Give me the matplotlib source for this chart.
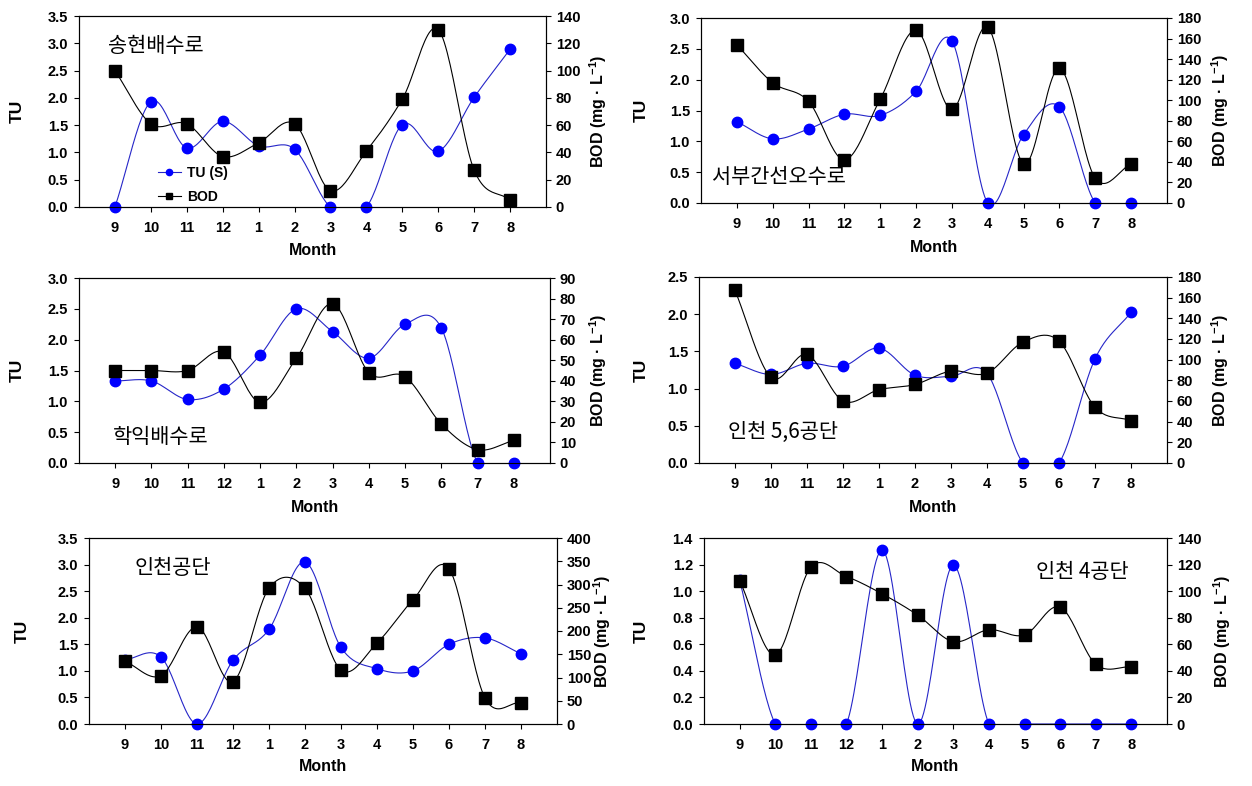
import numpy as np
import matplotlib
matplotlib.use("Agg")
import matplotlib.pyplot as plt
from matplotlib.lines import Line2D

plt.rcParams['font.family'] = ['Liberation Sans', 'Noto Sans CJK KR', 'DejaVu Sans']
plt.rcParams['mathtext.fontset'] = 'custom'
plt.rcParams['mathtext.rm'] = 'Liberation Sans'
plt.rcParams['mathtext.bf'] = 'Liberation Sans:bold'
plt.rcParams['axes.linewidth'] = 0.8

months = ['9', '10', '11', '12', '1', '2', '3', '4', '5', '6', '7', '8']

# Panel 1: 송현배수로
tu_1 = [0, 1.93, 1.08, 1.57, 1.12, 1.06, 0, 0, 1.51, 1.02, 2.01, 2.89]
bod_1 = [100, 61, 61, 37, 47, 61, 12, 41, 79, 130, 27, 5]
# Panel 2: 서부간선오수로
tu_2 = [1.32, 1.04, 1.20, 1.44, 1.42, 1.81, 2.63, 0, 1.11, 1.56, 0, 0]
bod_2 = [154, 117, 99, 42, 101, 168, 91, 171, 38, 131, 24, 38]
# Panel 3: 학익배수로
tu_3 = [1.33, 1.33, 1.03, 1.20, 1.75, 2.50, 2.13, 1.70, 2.25, 2.19, 0, 0]
bod_3 = [45, 45, 45, 54, 29.5, 51, 77.5, 44, 42, 19, 6.5, 11]
# Panel 4: 인천 5,6공단
tu_4 = [1.34, 1.19, 1.34, 1.30, 1.545, 1.18, 1.165, 1.205, 0, 0, 1.40, 2.025]
bod_4 = [167, 83, 105, 60, 71, 76, 89, 87, 117, 118, 54, 41]
# Panel 5: 인천공단
tu_5 = [1.21, 1.26, 0, 1.20, 1.78, 3.05, 1.44, 1.04, 1.00, 1.50, 1.62, 1.32]
bod_5 = [135, 104, 209, 91, 292, 292, 116, 174, 267, 334, 56, 46]
# Panel 6: 인천 4공단
tu_6 = [1.085, 0, 0, 0, 1.31, 0, 1.196, 0, 0, 0, 0, 0]
bod_6 = [108, 52, 118, 111, 98, 82, 62, 71, 67, 88, 45, 43]

titles = ['송현배수로', '서부간선오수로', '학익배수로', '인천 5,6공단', '인천공단', '인천 4공단']
tu_all = [tu_1, tu_2, tu_3, tu_4, tu_5, tu_6]
bod_all = [bod_1, bod_2, bod_3, bod_4, bod_5, bod_6]
tu_max = [3.5, 3.0, 3.0, 2.5, 3.5, 1.4]
tu_step = [0.5, 0.5, 0.5, 0.5, 0.5, 0.2]
bod_max = [140, 180, 90, 180, 400, 140]
bod_step = [20, 20, 10, 20, 50, 20]

W, H = 1252, 786
# axes boxes in pixels: left, right, top, bottom
boxes = [(79, 546, 16, 207), (701, 1167, 18, 203),
         (79, 550, 278, 463), (699, 1167, 277, 463),
         (89, 557, 538, 724), (704, 1167, 538, 724)]
title_pos = [(0.062, 0.843), (0.024, 0.141), (0.072, 0.141),
             (0.062, 0.167), (0.098, 0.839), (0.717, 0.817)]
tu_lab_x = [-0.133, -0.129, -0.132, -0.124, -0.143, -0.136]
bod_lab_x = [1.111, 1.114, 1.102, 1.113, 1.096, 1.119]
month_lab_y = [-0.230, -0.238, -0.238, -0.237, -0.231, -0.231]


def smooth(x, y, n=24):
    """Catmull-Rom style smooth curve through the points (drawing only)."""
    x = np.asarray(x, float)
    y = np.asarray(y, float)
    m = np.zeros_like(y)
    m[1:-1] = (y[2:] - y[:-2]) / 2.0
    m[0] = y[1] - y[0]
    m[-1] = y[-1] - y[-2]
    xs, ys = [], []
    t = np.linspace(0, 1, n, endpoint=False)
    h00 = 2 * t**3 - 3 * t**2 + 1
    h10 = t**3 - 2 * t**2 + t
    h01 = -2 * t**3 + 3 * t**2
    h11 = t**3 - t**2
    for i in range(len(x) - 1):
        xs.append(x[i] + t * (x[i + 1] - x[i]))
        ys.append(h00 * y[i] + h10 * m[i] + h01 * y[i + 1] + h11 * m[i + 1])
    xs.append([x[-1]])
    ys.append([y[-1]])
    return np.concatenate(xs), np.concatenate(ys)


fig = plt.figure(figsize=(W / 100, H / 100), dpi=100)
blue = '#0000ff'
line_blue = '#2626c8'

for i in range(6):
    l, r, t, b = boxes[i]
    ax = fig.add_axes([l / W, 1 - b / H, (r - l) / W, (b - t) / H])
    x = np.arange(len(months))
    sx, sy = smooth(x, tu_all[i])
    ax.plot(sx, sy, color=line_blue, lw=0.8, zorder=2)
    ax.plot(x, tu_all[i], 'o', color=blue, ms=7.5, mec=blue, zorder=3, clip_on=False)
    ax.set_xlim(-1, 12)
    ax.set_ylim(0, tu_max[i])
    yt = np.arange(0, tu_max[i] + 1e-9, tu_step[i])
    ax.set_yticks(yt)
    ax.set_yticklabels([f'{v:.1f}' for v in yt])
    ax.set_xticks(x)
    ax.set_xticklabels(months)
    ax.tick_params(axis='y', direction='out', length=3.5, width=0.8, pad=4.5, labelsize=10.5)
    ax.tick_params(axis='x', direction='out', length=3.5, width=0.8, pad=6.5, labelsize=10.5)
    for lab in ax.get_xticklabels() + ax.get_yticklabels():
        lab.set_fontweight('bold')
    ax.set_ylabel('TU', fontsize=12.5, fontweight='bold', va='center')
    ax.yaxis.set_label_coords(tu_lab_x[i], 0.5)
    ax.set_xlabel('Month', fontsize=11.5, fontweight='bold', va='center')
    ax.xaxis.set_label_coords(0.5, month_lab_y[i])

    ax2 = ax.twinx()
    bx, by = smooth(x, bod_all[i])
    ax2.plot(bx, by, color='black', lw=0.8, zorder=2)
    ax2.plot(x, bod_all[i], 's', color='black', ms=8, zorder=3, clip_on=False)
    ax2.set_ylim(0, bod_max[i])
    bt = np.arange(0, bod_max[i] + 1e-9, bod_step[i])
    ax2.set_yticks(bt)
    ax2.set_yticklabels([f'{int(v)}' for v in bt])
    ax2.tick_params(axis='y', direction='out', length=3.5, width=0.8, pad=3.5, labelsize=10.5)
    for lab in ax2.get_yticklabels():
        lab.set_fontweight('bold')
    ax2.set_ylabel(r'BOD (mg · L$^{\mathbf{-1}}$)', fontsize=11.5, fontweight='bold',
                   va='center', rotation=90)
    ax2.yaxis.set_label_coords(bod_lab_x[i], 0.5)
    ax2.set_xlim(-1, 12)

    ax2.text(title_pos[i][0], title_pos[i][1], titles[i], transform=ax.transAxes,
             ha='left', va='center', fontsize=15,
             family=['Noto Sans CJK KR', 'DejaVu Sans'])

    if i == 0:
        handles = [Line2D([], [], color=line_blue, lw=0.8, marker='o', ms=4.5,
                          mfc=blue, mec=blue),
                   Line2D([], [], color='black', lw=0.8, marker='s', ms=5,
                          mfc='black', mec='black')]
        ax2.legend(handles, ['TU (S)', 'BOD'], loc='upper left',
                   bbox_to_anchor=(0.155, 0.25), frameon=False, borderpad=0,
                   handlelength=1.6, handletextpad=0.5, labelspacing=0.7,
                   prop=dict(size=10, weight='bold'))

fig.savefig('out.png', dpi=100)
